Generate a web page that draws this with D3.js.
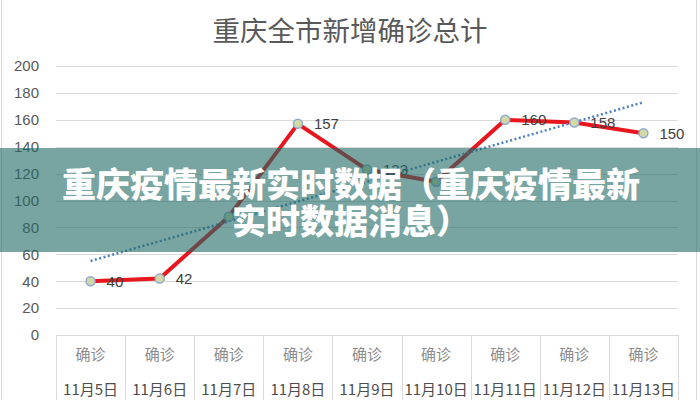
<!DOCTYPE html>
<html><head><meta charset="utf-8">
<script src="https://cdn.jsdelivr.net/npm/d3@7/dist/d3.min.js"></script>
<style>
html,body{margin:0;padding:0;background:#fff;}
svg{display:block;font-family:"Noto Sans CJK SC","Noto Sans",sans-serif;}
</style></head>
<body>
<svg id="chart" width="700" height="400"></svg>
<script>
const title = "重庆全市新增确诊总计";
const categories = ["11月5日","11月6日","11月7日","11月8日","11月9日","11月10日","11月11日","11月12日","11月13日"];
const rowLabel = "确诊";
const values = [40, 42, 88, 157, 123, 114, 160, 158, 150];
const showLabel = [true, true, false, true, true, false, true, true, true];
const trendEnds = [55, 173];
const yTicks = [0, 20, 40, 60, 80, 100, 120, 140, 160, 180, 200];
const bannerLines = ["重庆疫情最新实时数据（重庆疫情最新", "实时数据消息）"];

(function () {
const svg = d3.select("#chart");
const W = 700, H = 400;
const pLeft = 56, pRight = 678, pTop = 66, pBottom = 335;

const x = d3.scaleBand().domain(categories).range([pLeft, pRight]).padding(0);
const y = d3.scaleLinear().domain([0, 200]).range([pBottom, pTop]);
const cx = d => x(d) + x.bandwidth() / 2;

// frame
svg.append("rect").attr("x", 1.5).attr("y", -2).attr("width", 695).attr("height", 405)
  .attr("fill", "none").attr("stroke", "#d9d9d9");

// title
svg.append("text").attr("x", 350).attr("y", 29).attr("text-anchor", "middle")
  .attr("dominant-baseline", "central").attr("font-size", 27.5).attr("fill", "#595959")
  .text(title);

// gridlines
svg.append("g").selectAll("line").data(yTicks.filter(t => t > 0)).join("line")
  .attr("x1", pLeft).attr("x2", pRight)
  .attr("y1", d => Math.round(y(d)) + 0.5).attr("y2", d => Math.round(y(d)) + 0.5)
  .attr("stroke", "#d9d9d9").attr("stroke-width", 1);

// y axis labels
const yAxis = d3.axisLeft(y).tickValues(yTicks).tickSize(0).tickPadding(0);
const gy = svg.append("g").attr("transform", "translate(39,0)").call(yAxis);
gy.select(".domain").remove();
gy.selectAll("text").attr("font-size", 15).attr("fill", "#595959")
  .attr("font-family", "'Liberation Sans','DejaVu Sans',sans-serif");

// data table under the axis
const tbl = svg.append("g");
tbl.append("line").attr("x1", pLeft).attr("x2", pRight).attr("y1", pBottom + 0.5).attr("y2", pBottom + 0.5)
  .attr("stroke", "#d9d9d9");
const edges = categories.map(c => x(c)).concat([pRight]);
tbl.selectAll("line.v").data(edges).join("line").attr("class", "v")
  .attr("x1", d => Math.round(d) + 0.5).attr("x2", d => Math.round(d) + 0.5)
  .attr("y1", pBottom).attr("y2", H)
  .attr("stroke", "#d9d9d9");
tbl.selectAll("text.r").data(categories).join("text").attr("class", "r")
  .attr("x", d => cx(d)).attr("y", 353).attr("text-anchor", "middle")
  .attr("dominant-baseline", "central").attr("font-size", 15).attr("fill", "#8c8c8c")
  .text(rowLabel);
tbl.selectAll("text.d").data(categories).join("text").attr("class", "d")
  .attr("x", d => cx(d)).attr("y", 388).attr("text-anchor", "middle")
  .attr("dominant-baseline", "central").attr("font-size", 15).attr("fill", "#4d4d4d")
  .text(d => d);

// series line
const pts = categories.map((c, i) => ({ c, v: values[i], show: showLabel[i] }));
svg.append("path").datum(pts)
  .attr("d", d3.line().x(d => cx(d.c)).y(d => y(d.v)))
  .attr("fill", "none").attr("stroke", "#e8161d").attr("stroke-width", 4)
  .attr("stroke-linejoin", "round");

// trendline
const trend = [{ c: categories[0], v: trendEnds[0] }, { c: categories[categories.length - 1], v: trendEnds[1] }];
svg.append("path").datum(trend)
  .attr("d", d3.line().x(d => cx(d.c)).y(d => y(d.v)))
  .attr("fill", "none").attr("stroke", "#4f81bd").attr("stroke-width", 2.5)
  .attr("stroke-dasharray", "2,2.5");

// markers
svg.append("g").selectAll("circle").data(pts).join("circle")
  .attr("cx", d => cx(d.c)).attr("cy", d => y(d.v)).attr("r", 4.5)
  .attr("fill", "#d3d9a6").attr("stroke", "#8eaacf").attr("stroke-width", 1.5);

// data labels
svg.append("g").selectAll("text").data(pts.filter(d => d.show)).join("text")
  .attr("x", d => cx(d.c) + 16).attr("y", d => y(d.v)).attr("dominant-baseline", "central")
  .attr("font-size", 15).attr("fill", "#404040")
  .attr("font-family", "'Liberation Sans','DejaVu Sans',sans-serif")
  .text(d => d.v);

// banner overlay
svg.append("rect").attr("x", 0).attr("y", 148).attr("width", W).attr("height", 104)
  .attr("fill", "rgb(30,105,100)").attr("fill-opacity", 0.6);
svg.append("g").selectAll("text").data(bannerLines).join("text")
  .attr("x", 351).attr("y", (d, i) => 182 + i * 37).attr("text-anchor", "middle")
  .attr("dominant-baseline", "central").attr("font-size", 34).attr("font-weight", 900)
  .attr("fill", "#ffffff").text(d => d);
})();
</script>
</body></html>
